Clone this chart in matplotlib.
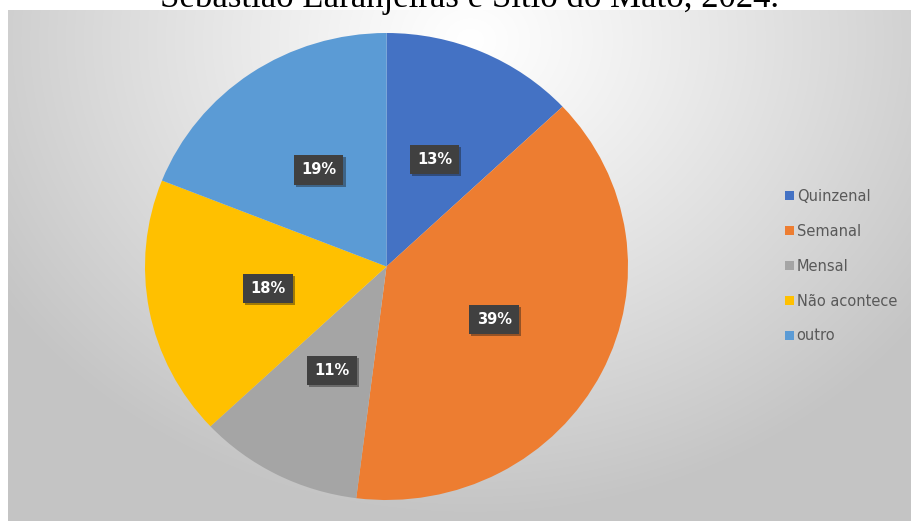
import numpy as np
import matplotlib
matplotlib.use("Agg")
import matplotlib.pyplot as plt
import matplotlib.patheffects as pe

categories = ["Quinzenal", "Semanal", "Mensal", "Não acontece", "outro"]
values = [13, 39, 11, 18, 19]
colors = ["#4472C4", "#ED7D31", "#A5A5A5", "#FFC000", "#5B9BD5"]
title = "Sebastião Laranjeiras e Sítio do Mato, 2024."

W, H = 911, 521
fig = plt.figure(figsize=(W / 100, H / 100), dpi=100)
fig.patch.set_facecolor("white")

# background panel with radial gradient
bg = fig.add_axes([8 / W, 0, (W - 8) / W, (H - 10) / H])
bg.set_axis_off()
yy, xx = np.mgrid[10:H, 8:W]
d = np.sqrt(((xx - 470) / 1.0) ** 2 + ((yy - 40) / 0.85) ** 2)
t = np.clip(d / 560, 0, 1) ** 1.1
c0 = np.array([1.0, 1.0, 1.0])
c1 = np.array([0.77, 0.77, 0.77])
img = c0[None, None, :] * (1 - t[..., None]) + c1[None, None, :] * t[..., None]
bg.imshow(img, aspect="auto", extent=(0, 1, 0, 1), interpolation="bilinear")
bg.set_xlim(0, 1)
bg.set_ylim(0, 1)

# pie axes (slightly elliptical as in the reference)
px0, px1, py0, py1 = 145, 628, 33, 500
ax = fig.add_axes([px0 / W, (H - py1) / H, (px1 - px0) / W, (py1 - py0) / H])
wedges, texts, autotexts = ax.pie(
    values, colors=colors, startangle=90, counterclock=False,
    autopct=lambda p: f"{p:.0f}%", pctdistance=0.5, radius=1,
    wedgeprops=dict(linewidth=0),
    textprops=dict(color="white", fontsize=10.5, fontweight="bold", family="DejaVu Sans"),
)
ax.set_aspect("auto")
ax.set_xlim(-1, 1)
ax.set_ylim(-1, 1)
ax.set_axis_off()
for at in autotexts:
    at.set_bbox(dict(boxstyle="square,pad=0.5", facecolor="#404040", edgecolor="none"))
    at.get_bbox_patch().set_path_effects([pe.SimplePatchShadow(offset=(1.5, -1.5), alpha=0.4), pe.Normal()])

leg = fig.legend(
    wedges, categories, loc="upper left", bbox_to_anchor=(785 / W, 1 - 189 / H),
    frameon=False, fontsize=10.5, handlelength=0.6, handleheight=0.6, handletextpad=0.2,
    labelspacing=1.36, borderaxespad=0, borderpad=0,
)
for txt in leg.get_texts():
    txt.set_color("#595959")

fig.text(469 / W, 1 - 7 / H, title, ha="center", va="baseline",
         family="Liberation Serif", fontsize=25, color="black")

fig.savefig("out.png", dpi=100)
